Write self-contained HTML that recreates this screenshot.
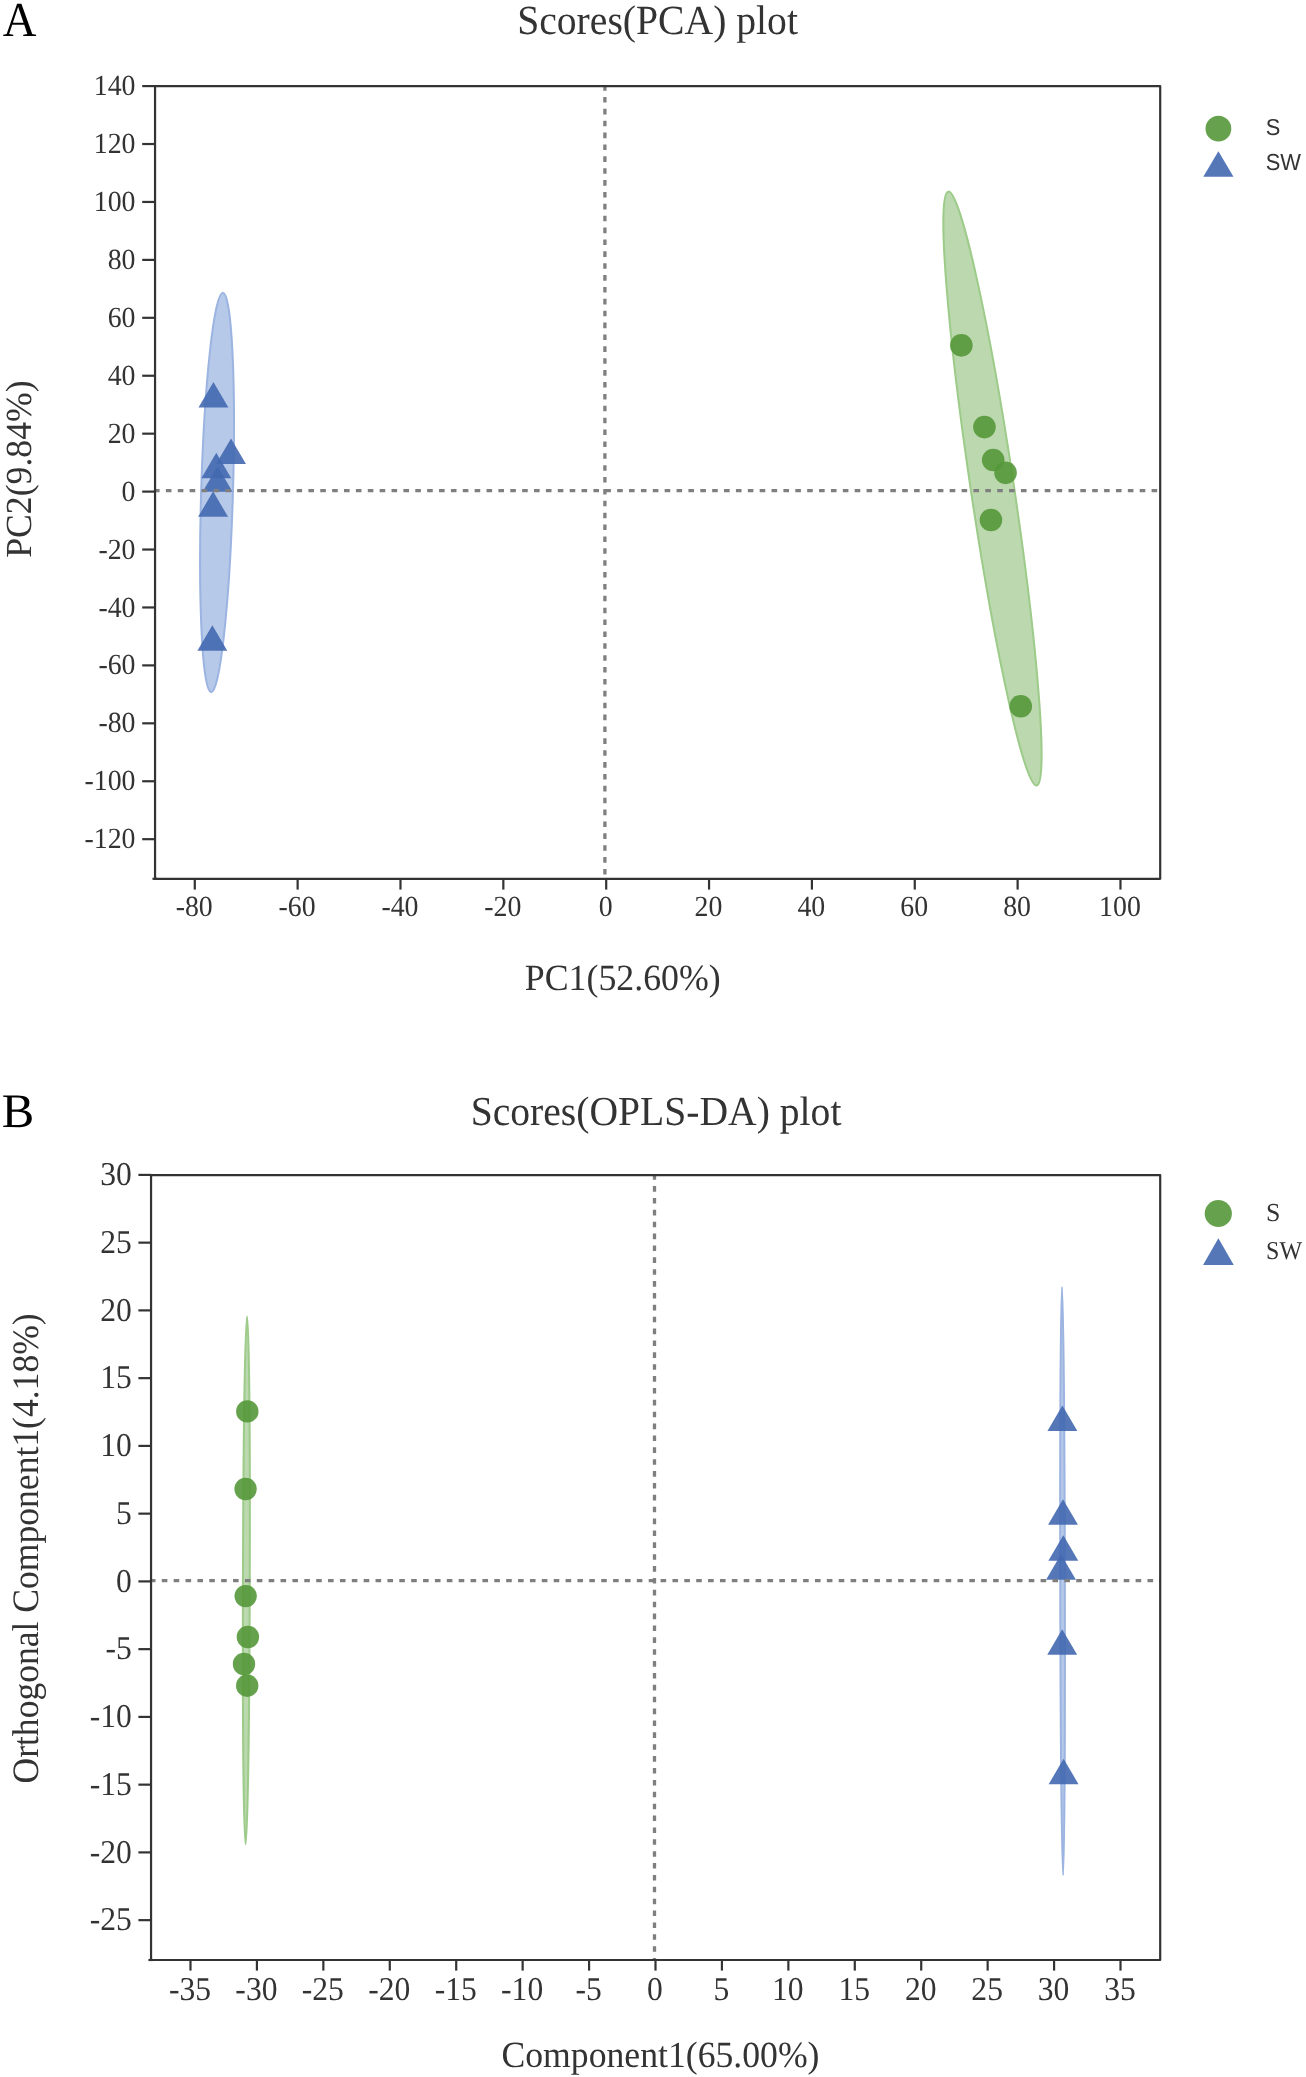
<!DOCTYPE html>
<html><head><meta charset="utf-8"><title>Scores plots</title><style>
html,body{margin:0;padding:0;background:#fff;}
body{width:1306px;height:2077px;overflow:hidden;font-family:"Liberation Serif", serif;}
svg{display:block;will-change:transform;text-rendering:geometricPrecision;}
</style></head><body>
<svg width="1306" height="2077" viewBox="0 0 1306 2077">
<rect width="100%" height="100%" fill="#fff"/>
<g>
<text transform="translate(2.85 35.78) scale(0.9631 1.0093)" text-anchor="start" font-family='"Liberation Serif", serif' font-size="48.5" fill="#000">A</text>
<text transform="translate(517.16 34.40) scale(1.0036 1.0500)" text-anchor="start" font-family='"Liberation Serif", serif' font-size="39.5" fill="#333">Scores(PCA) plot</text>
<ellipse cx="217.04" cy="492.51" rx="15.90" ry="199.74" transform="rotate(1.690 217.04 492.51)" fill="#b7c9e8" stroke="#9bb4e1" stroke-width="2.0"/>
<ellipse cx="992.47" cy="488.59" rx="21.61" ry="300.23" transform="rotate(-8.472 992.47 488.59)" fill="#bbd8ae" stroke="#9dcb8a" stroke-width="2.0"/>
<path d="M213.45,382.05L228.40,407.55L198.50,407.55Z" fill="#4268b0" fill-opacity="0.9"/>
<path d="M231.00,438.45L245.95,463.95L216.05,463.95Z" fill="#4268b0" fill-opacity="0.9"/>
<path d="M216.30,452.75L231.25,478.25L201.35,478.25Z" fill="#4268b0" fill-opacity="0.9"/>
<path d="M217.60,466.25L232.55,491.75L202.65,491.75Z" fill="#4268b0" fill-opacity="0.9"/>
<path d="M213.10,491.35L228.05,516.85L198.15,516.85Z" fill="#4268b0" fill-opacity="0.9"/>
<path d="M212.35,625.35L227.30,650.85L197.40,650.85Z" fill="#4268b0" fill-opacity="0.9"/>
<circle cx="961.35" cy="345.35" r="11.3" fill="#55983a" fill-opacity="0.9"/>
<circle cx="984.45" cy="427.10" r="11.3" fill="#55983a" fill-opacity="0.9"/>
<circle cx="993.20" cy="459.95" r="11.3" fill="#55983a" fill-opacity="0.9"/>
<circle cx="1005.55" cy="472.85" r="11.3" fill="#55983a" fill-opacity="0.9"/>
<circle cx="990.95" cy="519.95" r="11.3" fill="#55983a" fill-opacity="0.9"/>
<circle cx="1020.75" cy="706.25" r="11.3" fill="#55983a" fill-opacity="0.9"/>
<line x1="154.0" y1="490.7" x2="1160.2" y2="490.7" stroke="#7f7f7f" stroke-width="3.3" stroke-dasharray="5.6 6.276"/>
<line x1="604.9" y1="85.1" x2="604.9" y2="878.8" stroke="#7f7f7f" stroke-width="3.3" stroke-dasharray="5.6 6.276"/>
<rect x="155.05" y="86.2" width="1005.15" height="792.60" fill="none" stroke="#333" stroke-width="2.2" stroke-linejoin="round"/>
<line x1="152.45" y1="878.8" x2="157.05" y2="878.8" stroke="#333" stroke-width="2.2"/>
<line x1="142.2" y1="86.09" x2="155.05" y2="86.09" stroke="#333" stroke-width="2.2"/>
<text transform="translate(135.50 95.19) scale(0.9940 1.0450)" text-anchor="end" font-family='"Liberation Serif", serif' font-size="28" fill="#333">140</text>
<line x1="142.2" y1="144.02" x2="155.05" y2="144.02" stroke="#333" stroke-width="2.2"/>
<text transform="translate(135.50 153.12) scale(0.9940 1.0450)" text-anchor="end" font-family='"Liberation Serif", serif' font-size="28" fill="#333">120</text>
<line x1="142.2" y1="201.95" x2="155.05" y2="201.95" stroke="#333" stroke-width="2.2"/>
<text transform="translate(135.50 211.05) scale(0.9940 1.0450)" text-anchor="end" font-family='"Liberation Serif", serif' font-size="28" fill="#333">100</text>
<line x1="142.2" y1="259.88" x2="155.05" y2="259.88" stroke="#333" stroke-width="2.2"/>
<text transform="translate(135.50 268.98) scale(0.9940 1.0450)" text-anchor="end" font-family='"Liberation Serif", serif' font-size="28" fill="#333">80</text>
<line x1="142.2" y1="317.81" x2="155.05" y2="317.81" stroke="#333" stroke-width="2.2"/>
<text transform="translate(135.50 326.91) scale(0.9940 1.0450)" text-anchor="end" font-family='"Liberation Serif", serif' font-size="28" fill="#333">60</text>
<line x1="142.2" y1="375.74" x2="155.05" y2="375.74" stroke="#333" stroke-width="2.2"/>
<text transform="translate(135.50 384.84) scale(0.9940 1.0450)" text-anchor="end" font-family='"Liberation Serif", serif' font-size="28" fill="#333">40</text>
<line x1="142.2" y1="433.67" x2="155.05" y2="433.67" stroke="#333" stroke-width="2.2"/>
<text transform="translate(135.50 442.77) scale(0.9940 1.0450)" text-anchor="end" font-family='"Liberation Serif", serif' font-size="28" fill="#333">20</text>
<line x1="142.2" y1="491.60" x2="155.05" y2="491.60" stroke="#333" stroke-width="2.2"/>
<text transform="translate(135.50 500.70) scale(0.9940 1.0450)" text-anchor="end" font-family='"Liberation Serif", serif' font-size="28" fill="#333">0</text>
<line x1="142.2" y1="549.53" x2="155.05" y2="549.53" stroke="#333" stroke-width="2.2"/>
<text transform="translate(135.50 558.63) scale(0.9940 1.0450)" text-anchor="end" font-family='"Liberation Serif", serif' font-size="28" fill="#333">-20</text>
<line x1="142.2" y1="607.46" x2="155.05" y2="607.46" stroke="#333" stroke-width="2.2"/>
<text transform="translate(135.50 616.56) scale(0.9940 1.0450)" text-anchor="end" font-family='"Liberation Serif", serif' font-size="28" fill="#333">-40</text>
<line x1="142.2" y1="665.39" x2="155.05" y2="665.39" stroke="#333" stroke-width="2.2"/>
<text transform="translate(135.50 674.49) scale(0.9940 1.0450)" text-anchor="end" font-family='"Liberation Serif", serif' font-size="28" fill="#333">-60</text>
<line x1="142.2" y1="723.32" x2="155.05" y2="723.32" stroke="#333" stroke-width="2.2"/>
<text transform="translate(135.50 732.42) scale(0.9940 1.0450)" text-anchor="end" font-family='"Liberation Serif", serif' font-size="28" fill="#333">-80</text>
<line x1="142.2" y1="781.25" x2="155.05" y2="781.25" stroke="#333" stroke-width="2.2"/>
<text transform="translate(135.50 790.35) scale(0.9940 1.0450)" text-anchor="end" font-family='"Liberation Serif", serif' font-size="28" fill="#333">-100</text>
<line x1="142.2" y1="839.18" x2="155.05" y2="839.18" stroke="#333" stroke-width="2.2"/>
<text transform="translate(135.50 848.28) scale(0.9940 1.0450)" text-anchor="end" font-family='"Liberation Serif", serif' font-size="28" fill="#333">-120</text>
<line x1="194.78" y1="878.8" x2="194.78" y2="889.6" stroke="#333" stroke-width="2.2"/>
<text transform="translate(194.23 916.06) scale(0.9940 1.0450)" text-anchor="middle" font-family='"Liberation Serif", serif' font-size="28" fill="#333">-80</text>
<line x1="297.63" y1="878.8" x2="297.63" y2="889.6" stroke="#333" stroke-width="2.2"/>
<text transform="translate(297.08 916.06) scale(0.9940 1.0450)" text-anchor="middle" font-family='"Liberation Serif", serif' font-size="28" fill="#333">-60</text>
<line x1="400.49" y1="878.8" x2="400.49" y2="889.6" stroke="#333" stroke-width="2.2"/>
<text transform="translate(399.94 916.06) scale(0.9940 1.0450)" text-anchor="middle" font-family='"Liberation Serif", serif' font-size="28" fill="#333">-40</text>
<line x1="503.34" y1="878.8" x2="503.34" y2="889.6" stroke="#333" stroke-width="2.2"/>
<text transform="translate(502.79 916.06) scale(0.9940 1.0450)" text-anchor="middle" font-family='"Liberation Serif", serif' font-size="28" fill="#333">-20</text>
<line x1="606.20" y1="878.8" x2="606.20" y2="889.6" stroke="#333" stroke-width="2.2"/>
<text transform="translate(605.65 916.06) scale(0.9940 1.0450)" text-anchor="middle" font-family='"Liberation Serif", serif' font-size="28" fill="#333">0</text>
<line x1="709.06" y1="878.8" x2="709.06" y2="889.6" stroke="#333" stroke-width="2.2"/>
<text transform="translate(708.51 916.06) scale(0.9940 1.0450)" text-anchor="middle" font-family='"Liberation Serif", serif' font-size="28" fill="#333">20</text>
<line x1="811.91" y1="878.8" x2="811.91" y2="889.6" stroke="#333" stroke-width="2.2"/>
<text transform="translate(811.36 916.06) scale(0.9940 1.0450)" text-anchor="middle" font-family='"Liberation Serif", serif' font-size="28" fill="#333">40</text>
<line x1="914.77" y1="878.8" x2="914.77" y2="889.6" stroke="#333" stroke-width="2.2"/>
<text transform="translate(914.22 916.06) scale(0.9940 1.0450)" text-anchor="middle" font-family='"Liberation Serif", serif' font-size="28" fill="#333">60</text>
<line x1="1017.62" y1="878.8" x2="1017.62" y2="889.6" stroke="#333" stroke-width="2.2"/>
<text transform="translate(1017.07 916.06) scale(0.9940 1.0450)" text-anchor="middle" font-family='"Liberation Serif", serif' font-size="28" fill="#333">80</text>
<line x1="1120.48" y1="878.8" x2="1120.48" y2="889.6" stroke="#333" stroke-width="2.2"/>
<text transform="translate(1119.93 916.06) scale(0.9940 1.0450)" text-anchor="middle" font-family='"Liberation Serif", serif' font-size="28" fill="#333">100</text>
<text transform="translate(524.74 989.80) scale(1.0092 1.0400)" text-anchor="start" font-family='"Liberation Serif", serif' font-size="35.5" fill="#333">PC1(52.60%)</text>
<text transform="translate(30.60 557.81) rotate(-90) scale(1.0051 1.0350)" text-anchor="start" font-family='"Liberation Serif", serif' font-size="35.5" fill="#333">PC2(9.84%)</text>
<circle cx="1218.40" cy="128.65" r="12.9" fill="#55983a" fill-opacity="0.9"/>
<path d="M1218.40,151.35L1233.50,176.85L1203.30,176.85Z" fill="#4268b0" fill-opacity="0.9"/>
<text transform="translate(1265.82 135.39) scale(0.9499 0.9979)" text-anchor="start" font-family='"Liberation Sans", sans-serif' font-size="23" fill="#333">S</text>
<text transform="translate(1265.72 170.45) scale(0.9520 1.0070)" text-anchor="start" font-family='"Liberation Sans", sans-serif' font-size="23" fill="#333">SW</text>
<text transform="translate(1.79 1127.32) scale(1.0043 0.9933)" text-anchor="start" font-family='"Liberation Serif", serif' font-size="48.5" fill="#000">B</text>
<text transform="translate(470.65 1124.80) scale(1.0027 1.0450)" text-anchor="start" font-family='"Liberation Serif", serif' font-size="39.5" fill="#333">Scores(OPLS-DA) plot</text>
<ellipse cx="246.35" cy="1580.45" rx="3.40" ry="263.85" transform="rotate(0.162 246.35 1580.45)" fill="#bbd8ae" stroke="#9dcb8a" stroke-width="2.0"/>
<ellipse cx="1062.55" cy="1581.00" rx="2.30" ry="294.10" transform="rotate(-0.107 1062.55 1581.00)" fill="#b7c9e8" stroke="#9bb4e1" stroke-width="2.0"/>
<path d="M1062.40,1405.55L1077.35,1431.05L1047.45,1431.05Z" fill="#4268b0" fill-opacity="0.9"/>
<path d="M1063.00,1499.25L1077.95,1524.75L1048.05,1524.75Z" fill="#4268b0" fill-opacity="0.9"/>
<path d="M1063.30,1535.15L1078.25,1560.65L1048.35,1560.65Z" fill="#4268b0" fill-opacity="0.9"/>
<path d="M1061.00,1554.25L1075.95,1579.75L1046.05,1579.75Z" fill="#4268b0" fill-opacity="0.9"/>
<path d="M1062.20,1629.35L1077.15,1654.85L1047.25,1654.85Z" fill="#4268b0" fill-opacity="0.9"/>
<path d="M1063.60,1758.75L1078.55,1784.25L1048.65,1784.25Z" fill="#4268b0" fill-opacity="0.9"/>
<circle cx="247.30" cy="1411.40" r="11.2" fill="#55983a" fill-opacity="0.9"/>
<circle cx="245.60" cy="1489.00" r="11.2" fill="#55983a" fill-opacity="0.9"/>
<circle cx="245.70" cy="1596.10" r="11.2" fill="#55983a" fill-opacity="0.9"/>
<circle cx="247.90" cy="1637.00" r="11.2" fill="#55983a" fill-opacity="0.9"/>
<circle cx="244.00" cy="1664.00" r="11.2" fill="#55983a" fill-opacity="0.9"/>
<circle cx="247.20" cy="1685.70" r="11.2" fill="#55983a" fill-opacity="0.9"/>
<line x1="149.9" y1="1580.7" x2="1160.2" y2="1580.7" stroke="#7f7f7f" stroke-width="3.3" stroke-dasharray="5.6 6.276"/>
<line x1="654.5" y1="1174.2" x2="654.5" y2="1960.0" stroke="#7f7f7f" stroke-width="3.3" stroke-dasharray="5.6 6.276"/>
<rect x="151.05" y="1175.05" width="1009.15" height="784.95" fill="none" stroke="#333" stroke-width="2.2" stroke-linejoin="round"/>
<line x1="148.45" y1="1960.0" x2="153.05" y2="1960.0" stroke="#333" stroke-width="2.2"/>
<line x1="138.4" y1="1174.90" x2="151.05" y2="1174.90" stroke="#333" stroke-width="2.2"/>
<text transform="translate(131.85 1185.00) scale(0.9870 1.0400)" text-anchor="end" font-family='"Liberation Serif", serif' font-size="32" fill="#333">30</text>
<line x1="138.4" y1="1242.65" x2="151.05" y2="1242.65" stroke="#333" stroke-width="2.2"/>
<text transform="translate(131.85 1252.75) scale(0.9870 1.0400)" text-anchor="end" font-family='"Liberation Serif", serif' font-size="32" fill="#333">25</text>
<line x1="138.4" y1="1310.40" x2="151.05" y2="1310.40" stroke="#333" stroke-width="2.2"/>
<text transform="translate(131.85 1320.50) scale(0.9870 1.0400)" text-anchor="end" font-family='"Liberation Serif", serif' font-size="32" fill="#333">20</text>
<line x1="138.4" y1="1378.15" x2="151.05" y2="1378.15" stroke="#333" stroke-width="2.2"/>
<text transform="translate(131.85 1388.25) scale(0.9870 1.0400)" text-anchor="end" font-family='"Liberation Serif", serif' font-size="32" fill="#333">15</text>
<line x1="138.4" y1="1445.90" x2="151.05" y2="1445.90" stroke="#333" stroke-width="2.2"/>
<text transform="translate(131.85 1456.00) scale(0.9870 1.0400)" text-anchor="end" font-family='"Liberation Serif", serif' font-size="32" fill="#333">10</text>
<line x1="138.4" y1="1513.65" x2="151.05" y2="1513.65" stroke="#333" stroke-width="2.2"/>
<text transform="translate(131.85 1523.75) scale(0.9870 1.0400)" text-anchor="end" font-family='"Liberation Serif", serif' font-size="32" fill="#333">5</text>
<line x1="138.4" y1="1581.40" x2="151.05" y2="1581.40" stroke="#333" stroke-width="2.2"/>
<text transform="translate(131.85 1591.50) scale(0.9870 1.0400)" text-anchor="end" font-family='"Liberation Serif", serif' font-size="32" fill="#333">0</text>
<line x1="138.4" y1="1649.15" x2="151.05" y2="1649.15" stroke="#333" stroke-width="2.2"/>
<text transform="translate(131.85 1659.25) scale(0.9870 1.0400)" text-anchor="end" font-family='"Liberation Serif", serif' font-size="32" fill="#333">-5</text>
<line x1="138.4" y1="1716.90" x2="151.05" y2="1716.90" stroke="#333" stroke-width="2.2"/>
<text transform="translate(131.85 1727.00) scale(0.9870 1.0400)" text-anchor="end" font-family='"Liberation Serif", serif' font-size="32" fill="#333">-10</text>
<line x1="138.4" y1="1784.65" x2="151.05" y2="1784.65" stroke="#333" stroke-width="2.2"/>
<text transform="translate(131.85 1794.75) scale(0.9870 1.0400)" text-anchor="end" font-family='"Liberation Serif", serif' font-size="32" fill="#333">-15</text>
<line x1="138.4" y1="1852.40" x2="151.05" y2="1852.40" stroke="#333" stroke-width="2.2"/>
<text transform="translate(131.85 1862.50) scale(0.9870 1.0400)" text-anchor="end" font-family='"Liberation Serif", serif' font-size="32" fill="#333">-20</text>
<line x1="138.4" y1="1920.15" x2="151.05" y2="1920.15" stroke="#333" stroke-width="2.2"/>
<text transform="translate(131.85 1930.25) scale(0.9870 1.0400)" text-anchor="end" font-family='"Liberation Serif", serif' font-size="32" fill="#333">-25</text>
<line x1="190.49" y1="1960.0" x2="190.49" y2="1970.6" stroke="#333" stroke-width="2.2"/>
<text transform="translate(189.99 1999.89) scale(0.9870 1.0400)" text-anchor="middle" font-family='"Liberation Serif", serif' font-size="32" fill="#333">-35</text>
<line x1="256.92" y1="1960.0" x2="256.92" y2="1970.6" stroke="#333" stroke-width="2.2"/>
<text transform="translate(256.42 1999.89) scale(0.9870 1.0400)" text-anchor="middle" font-family='"Liberation Serif", serif' font-size="32" fill="#333">-30</text>
<line x1="323.35" y1="1960.0" x2="323.35" y2="1970.6" stroke="#333" stroke-width="2.2"/>
<text transform="translate(322.85 1999.89) scale(0.9870 1.0400)" text-anchor="middle" font-family='"Liberation Serif", serif' font-size="32" fill="#333">-25</text>
<line x1="389.78" y1="1960.0" x2="389.78" y2="1970.6" stroke="#333" stroke-width="2.2"/>
<text transform="translate(389.28 1999.89) scale(0.9870 1.0400)" text-anchor="middle" font-family='"Liberation Serif", serif' font-size="32" fill="#333">-20</text>
<line x1="456.21" y1="1960.0" x2="456.21" y2="1970.6" stroke="#333" stroke-width="2.2"/>
<text transform="translate(455.71 1999.89) scale(0.9870 1.0400)" text-anchor="middle" font-family='"Liberation Serif", serif' font-size="32" fill="#333">-15</text>
<line x1="522.64" y1="1960.0" x2="522.64" y2="1970.6" stroke="#333" stroke-width="2.2"/>
<text transform="translate(522.14 1999.89) scale(0.9870 1.0400)" text-anchor="middle" font-family='"Liberation Serif", serif' font-size="32" fill="#333">-10</text>
<line x1="589.07" y1="1960.0" x2="589.07" y2="1970.6" stroke="#333" stroke-width="2.2"/>
<text transform="translate(588.57 1999.89) scale(0.9870 1.0400)" text-anchor="middle" font-family='"Liberation Serif", serif' font-size="32" fill="#333">-5</text>
<line x1="655.50" y1="1960.0" x2="655.50" y2="1970.6" stroke="#333" stroke-width="2.2"/>
<text transform="translate(655.00 1999.89) scale(0.9870 1.0400)" text-anchor="middle" font-family='"Liberation Serif", serif' font-size="32" fill="#333">0</text>
<line x1="721.93" y1="1960.0" x2="721.93" y2="1970.6" stroke="#333" stroke-width="2.2"/>
<text transform="translate(721.43 1999.89) scale(0.9870 1.0400)" text-anchor="middle" font-family='"Liberation Serif", serif' font-size="32" fill="#333">5</text>
<line x1="788.36" y1="1960.0" x2="788.36" y2="1970.6" stroke="#333" stroke-width="2.2"/>
<text transform="translate(787.86 1999.89) scale(0.9870 1.0400)" text-anchor="middle" font-family='"Liberation Serif", serif' font-size="32" fill="#333">10</text>
<line x1="854.79" y1="1960.0" x2="854.79" y2="1970.6" stroke="#333" stroke-width="2.2"/>
<text transform="translate(854.29 1999.89) scale(0.9870 1.0400)" text-anchor="middle" font-family='"Liberation Serif", serif' font-size="32" fill="#333">15</text>
<line x1="921.22" y1="1960.0" x2="921.22" y2="1970.6" stroke="#333" stroke-width="2.2"/>
<text transform="translate(920.72 1999.89) scale(0.9870 1.0400)" text-anchor="middle" font-family='"Liberation Serif", serif' font-size="32" fill="#333">20</text>
<line x1="987.65" y1="1960.0" x2="987.65" y2="1970.6" stroke="#333" stroke-width="2.2"/>
<text transform="translate(987.15 1999.89) scale(0.9870 1.0400)" text-anchor="middle" font-family='"Liberation Serif", serif' font-size="32" fill="#333">25</text>
<line x1="1054.08" y1="1960.0" x2="1054.08" y2="1970.6" stroke="#333" stroke-width="2.2"/>
<text transform="translate(1053.58 1999.89) scale(0.9870 1.0400)" text-anchor="middle" font-family='"Liberation Serif", serif' font-size="32" fill="#333">30</text>
<line x1="1120.51" y1="1960.0" x2="1120.51" y2="1970.6" stroke="#333" stroke-width="2.2"/>
<text transform="translate(1120.01 1999.89) scale(0.9870 1.0400)" text-anchor="middle" font-family='"Liberation Serif", serif' font-size="32" fill="#333">35</text>
<text transform="translate(501.49 2066.80) scale(1.0047 1.0400)" text-anchor="start" font-family='"Liberation Serif", serif' font-size="35.5" fill="#333">Component1(65.00%)</text>
<text transform="translate(37.90 1783.56) rotate(-90) scale(1.0019 1.0500)" text-anchor="start" font-family='"Liberation Serif", serif' font-size="35.5" fill="#333">Orthogonal Component1(4.18%)</text>
<circle cx="1218.30" cy="1213.50" r="13.6" fill="#55983a" fill-opacity="0.9"/>
<path d="M1218.40,1238.20L1233.75,1264.90L1203.05,1264.90Z" fill="#4268b0" fill-opacity="0.9"/>
<text transform="translate(1266.10 1221.28) scale(1.0154 1.0154)" text-anchor="start" font-family='"Liberation Serif", serif' font-size="25.5" fill="#333">S</text>
<text transform="translate(1266.06 1259.30) scale(0.9404 1.0039)" text-anchor="start" font-family='"Liberation Serif", serif' font-size="25.5" fill="#333">SW</text>
</g>
</svg>
</body></html>
